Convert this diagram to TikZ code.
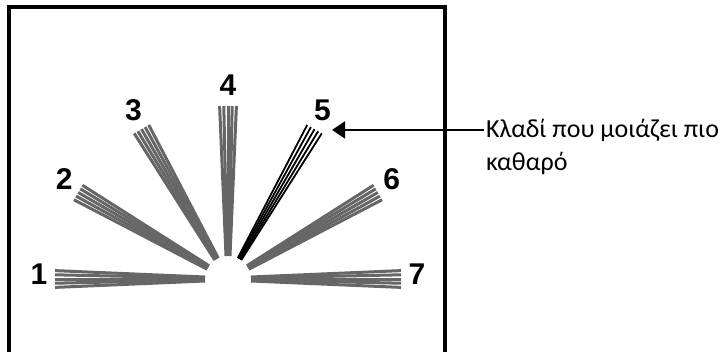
\documentclass[tikz,border=0pt]{standalone}
\usepackage{fontspec}
\setmainfont{Carlito}
\newfontfamily\digitfont{Liberation Sans}
\usetikzlibrary{calc,arrows.meta}

\begin{document}
\begin{tikzpicture}[x=1pt, y=-1pt, >={Triangle[length=13pt,width=17pt]},
    num/.style={font=\digitfont\bfseries\fontsize{30}{32}\selectfont, inner sep=1pt},
    note/.style={font=\fontsize{26}{30}\selectfont, inner sep=2pt, anchor=base west}]
  \useasboundingbox (0,0) rectangle (728,351);
  \draw[line width=3.5pt] (9,7) rectangle (445,362);
  \coordinate (c) at (228,279);
  \coordinate (lc) at (228,274);
  \foreach \a/\n/\c/\w in {180/1/black!60/3pt, 150/2/black!60/3pt, 120/3/black!60/3pt,
      90/4/black!60/3pt, 60/5/black/1.8pt, 30/6/black!60/3pt, 0/7/black!60/3pt} {
    \foreach \k in {-2,...,2}
      \draw[color=\c, line width=\w] ($(c)+(-\a:23)+(90-\a:\k)$) -- ($(c)+(-\a:173)+(90-\a:4.2*\k)$);
    \node[num] (n\n) at ($(lc)+(-\a:189)$) {\n};
  }
  \node[note] (l1) at (484,137) {Κλαδί που μοιάζει πιο};
  \node[note] (l2) at (484,170) {καθαρό};
  \draw[->, line width=2pt] (l1.west) -- (n5.east |- l1.west);
\end{tikzpicture}
\end{document}
